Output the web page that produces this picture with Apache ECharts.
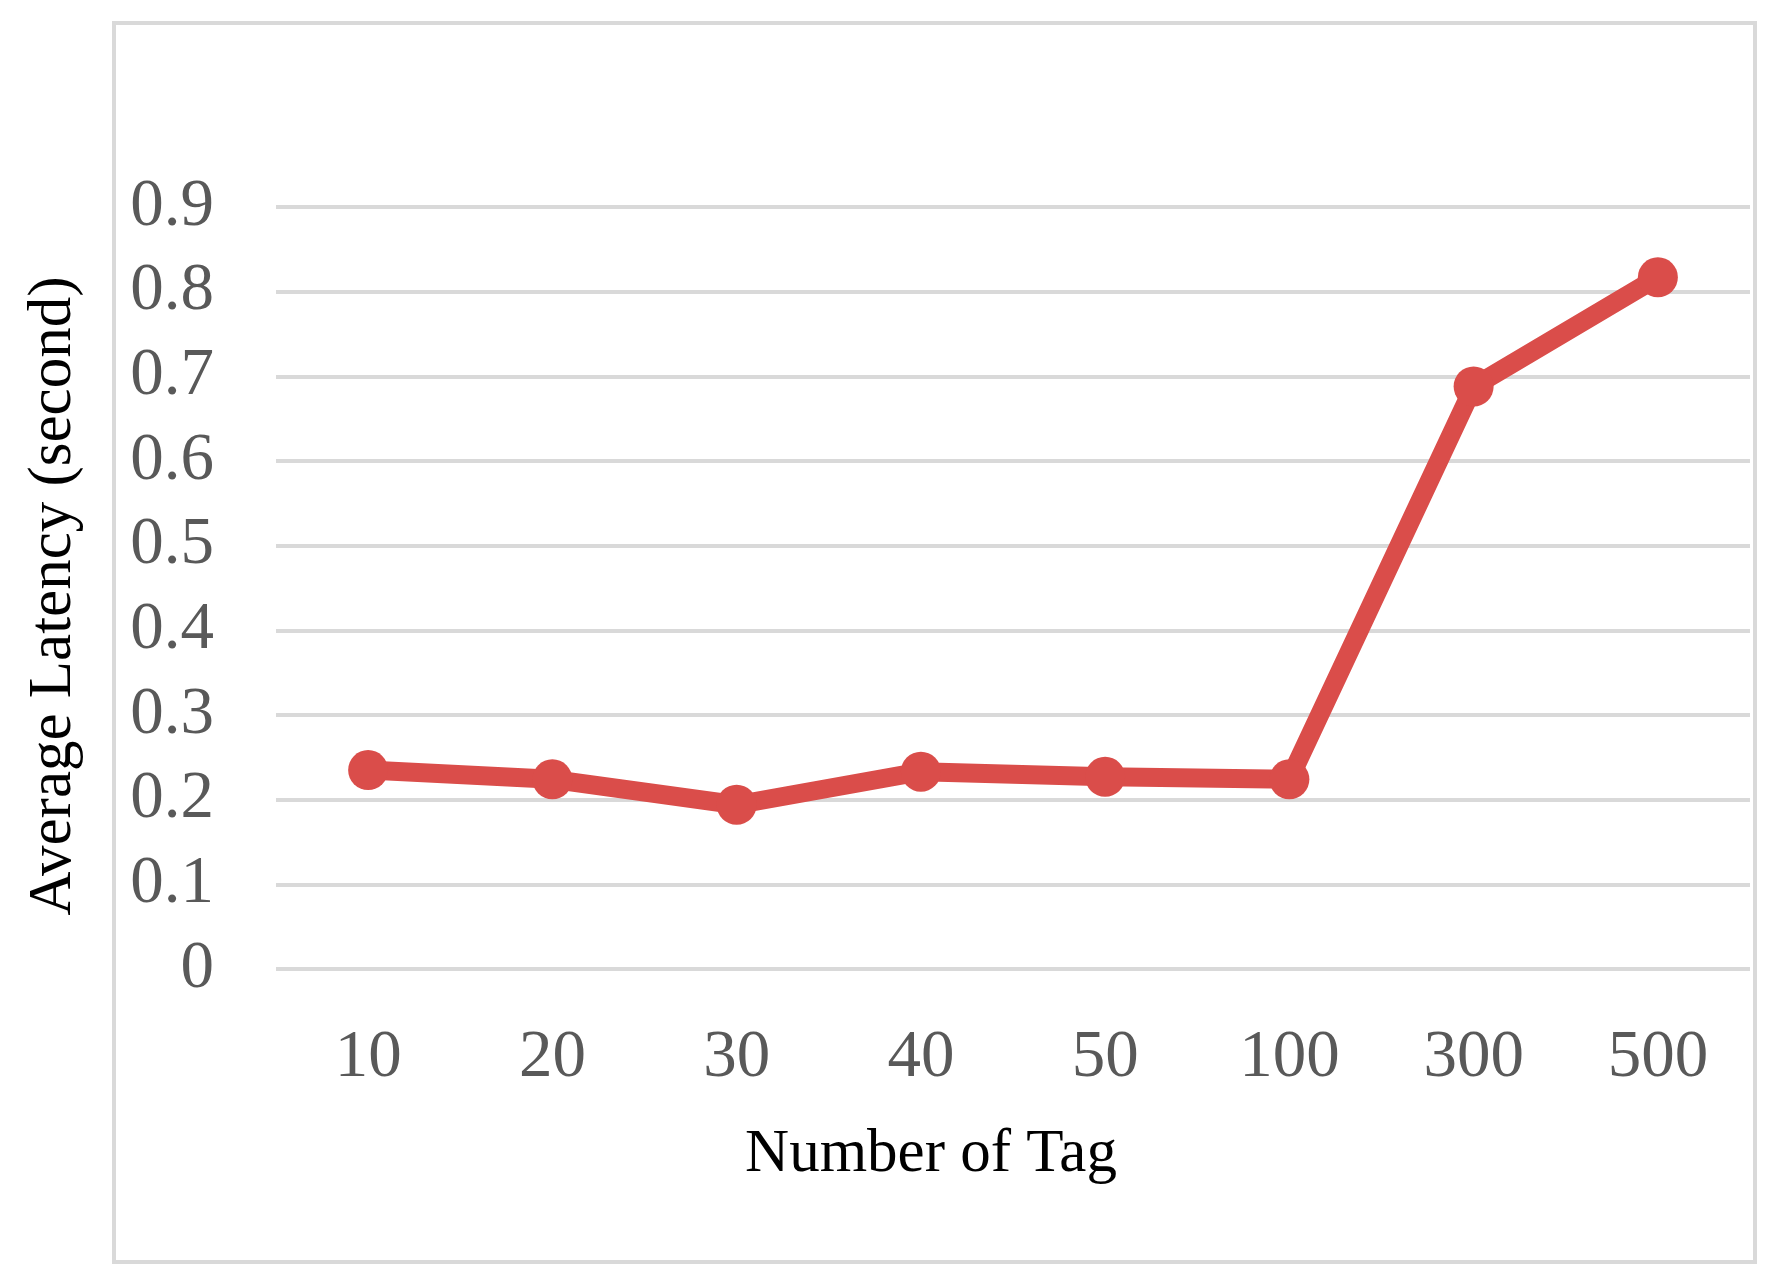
<!DOCTYPE html>
<html>
<head>
<meta charset="utf-8">
<script src="https://cdn.jsdelivr.net/npm/echarts@6/dist/echarts.min.js"></script>
<style>
html,body{margin:0;padding:0;background:#fff;}
#chart{width:1782px;height:1285px;}
</style>
</head>
<body>
<div id="chart"></div>
<script>
const categories = ['10', '20', '30', '40', '50', '100', '300', '500'];
const latency = [0.235, 0.224, 0.194, 0.233, 0.227, 0.224, 0.688, 0.817];
const xTitle = 'Number of Tag';
const yTitle = 'Average Latency (second)';

const chart = echarts.init(document.getElementById('chart'));
chart.setOption({
  backgroundColor: '#ffffff',
  animation: false,
  graphic: [{
    type: 'rect',
    z: -10,
    shape: { x: 114, y: 23, width: 1641, height: 1239 },
    style: { fill: 'none', stroke: '#d9d9d9', lineWidth: 4 }
  }],
  grid: { left: 276, right: 32, top: 207, bottom: 316 },
  xAxis: {
    type: 'category',
    data: categories,
    boundaryGap: true,
    axisLine: { show: false },
    axisTick: { show: false },
    axisLabel: { color: '#595959', fontFamily: 'Liberation Serif', fontSize: 67, margin: 56 },
    name: xTitle,
    nameLocation: 'middle',
    nameGap: 155,
    nameTextStyle: { color: '#000', fontFamily: 'Liberation Serif', fontSize: 61, padding: [0, 164, 0, 0] }
  },
  yAxis: {
    type: 'value',
    min: 0,
    max: 0.9,
    interval: 0.1,
    axisLine: { show: false },
    axisTick: { show: false },
    axisLabel: { color: '#595959', fontFamily: 'Liberation Serif', fontSize: 67, margin: 62 },
    splitLine: { show: true, lineStyle: { color: '#d9d9d9', width: 4 } },
    name: yTitle,
    nameLocation: 'middle',
    nameRotate: 90,
    nameGap: 192,
    nameTextStyle: { color: '#000', fontFamily: 'Liberation Serif', fontSize: 61, padding: [0, 16, 0, 0] }
  },
  series: [{
    type: 'line',
    data: latency,
    symbol: 'circle',
    symbolSize: 40,
    lineStyle: { color: '#da4d4a', width: 19 },
    itemStyle: { color: '#da4d4a' }
  }]
});
</script>
</body>
</html>
